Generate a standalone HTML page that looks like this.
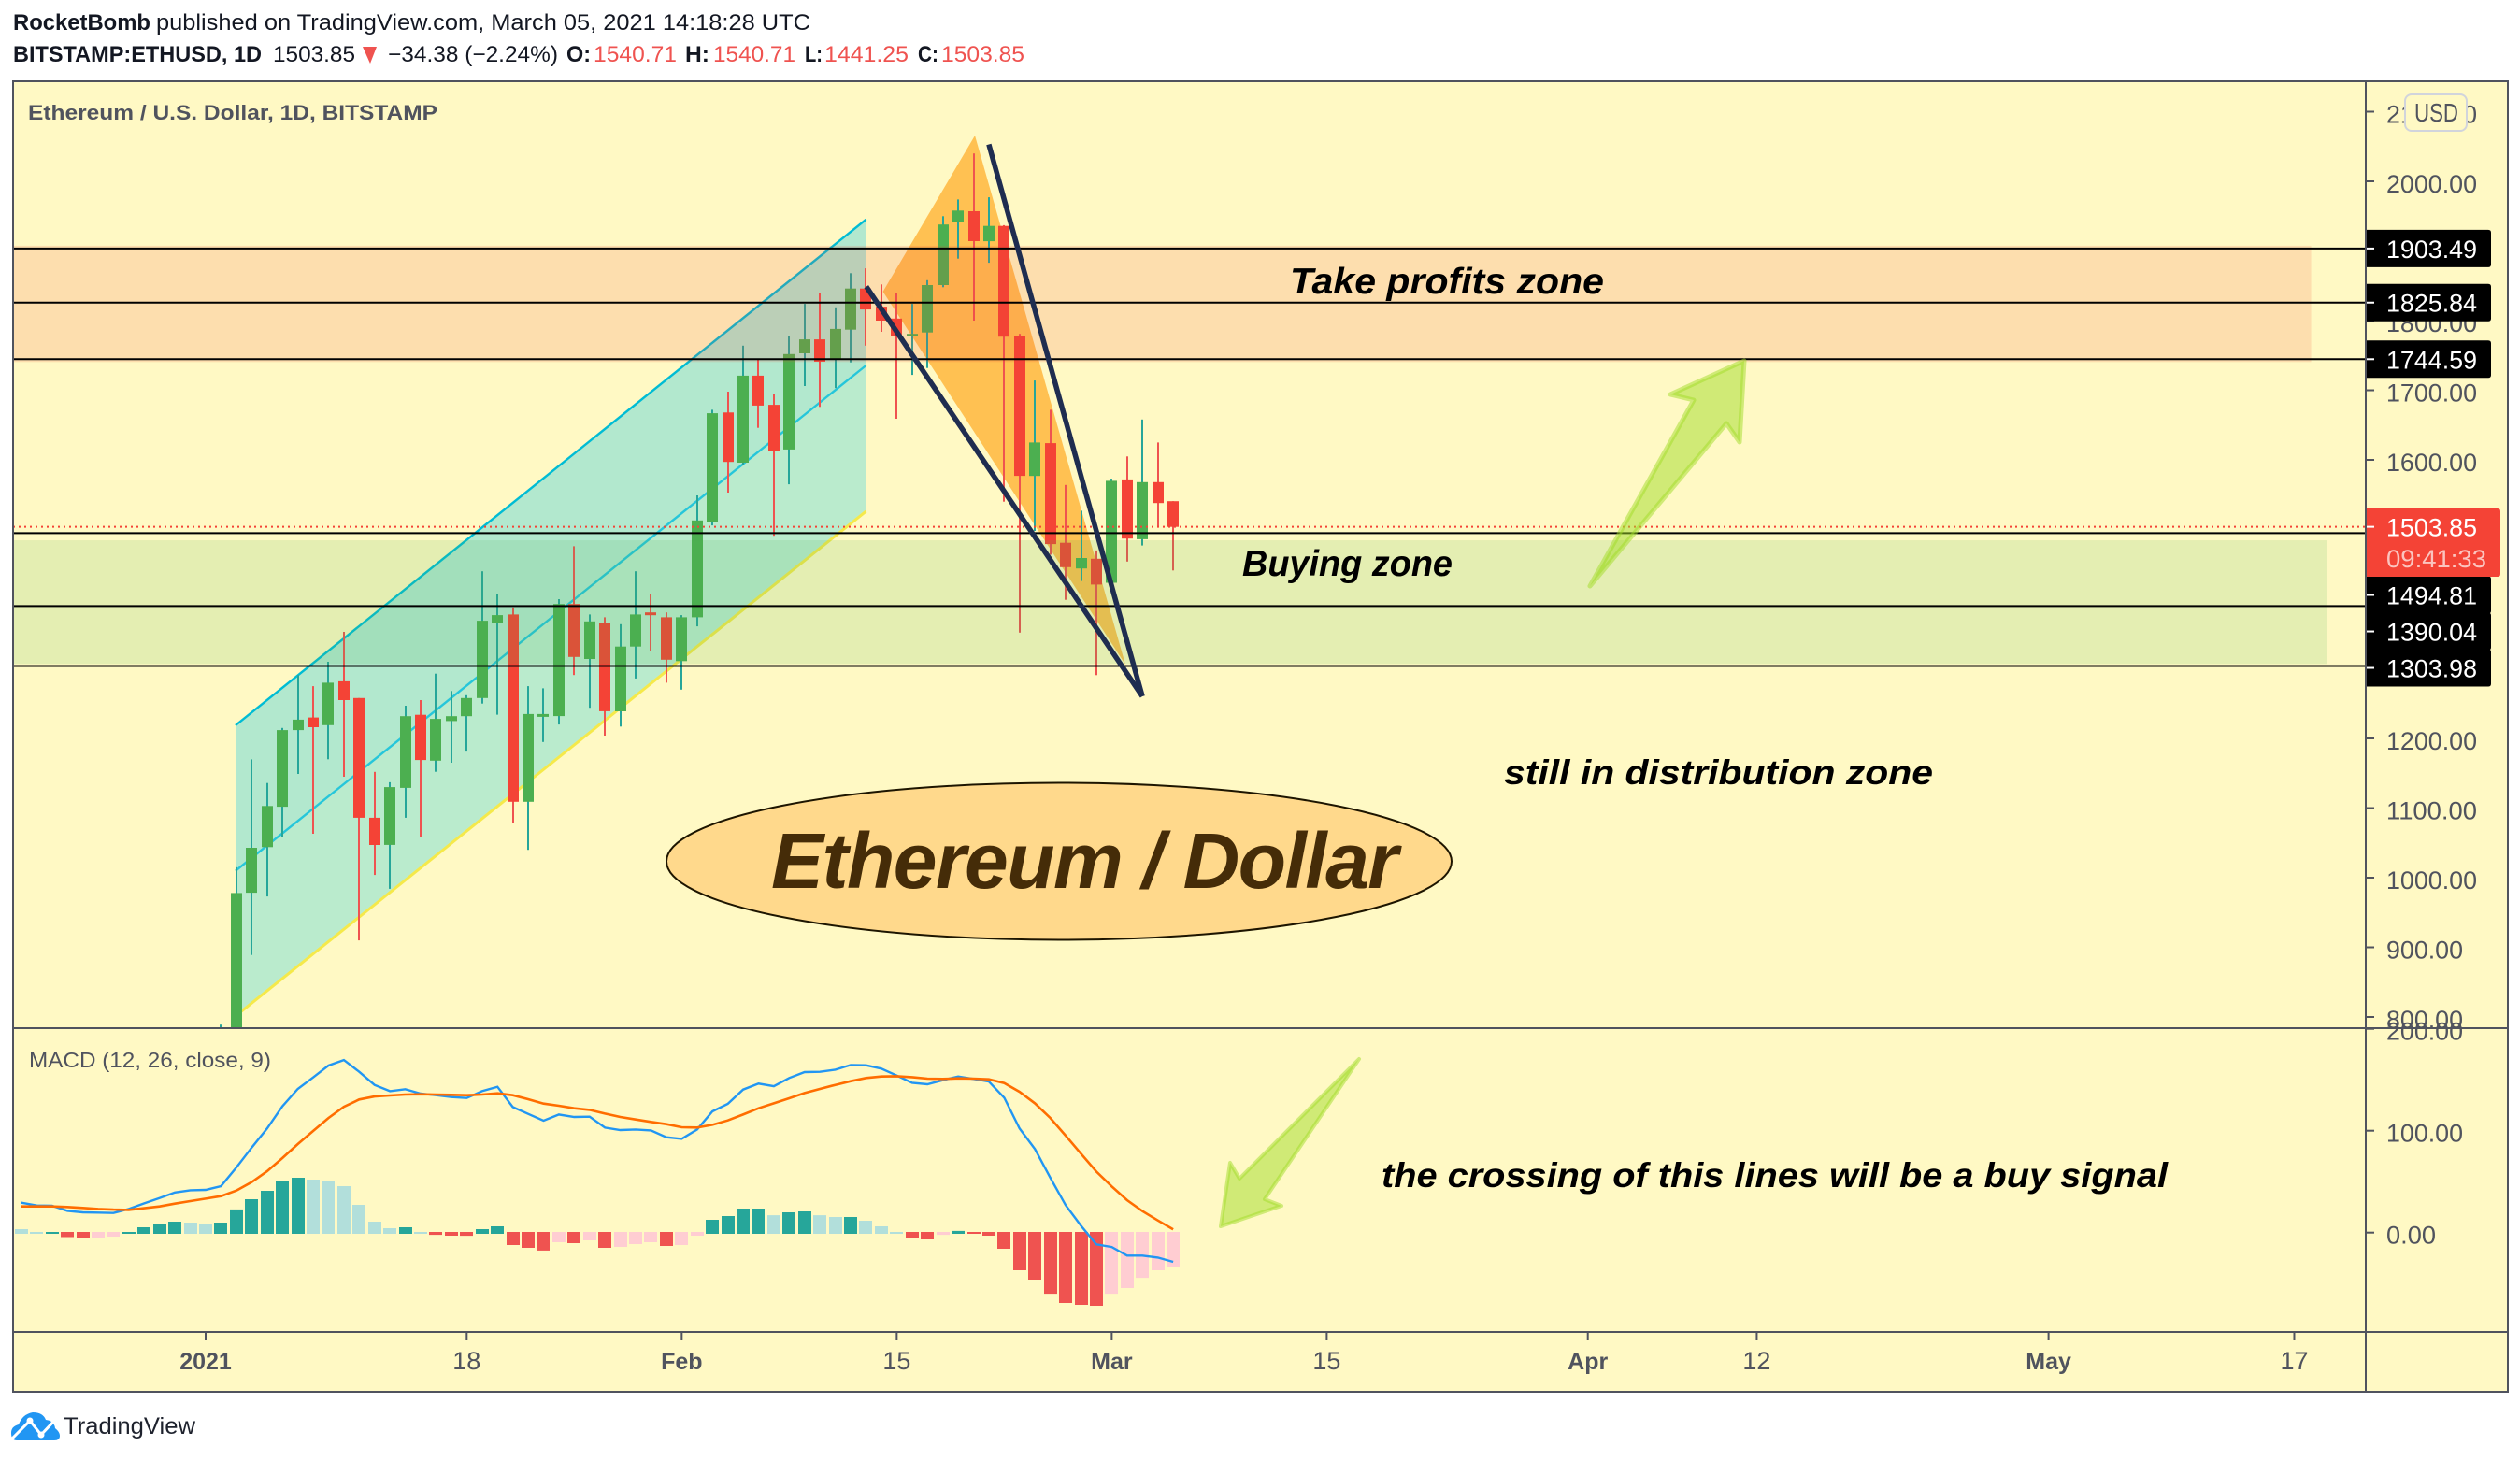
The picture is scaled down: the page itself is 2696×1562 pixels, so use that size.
<!DOCTYPE html>
<html lang="en">
<head>
<meta charset="utf-8">
<title>Ethereum / Dollar chart</title>
<style>
html,body{margin:0;padding:0;background:#fff;width:2696px;height:1562px;overflow:hidden}
svg{display:block}
text{font-family:"Liberation Sans",sans-serif}
</style>
</head>
<body>
<svg id="chart" xmlns="http://www.w3.org/2000/svg" width="2696" height="1562" viewBox="0 0 2696 1562">
  <defs>
    <clipPath id="pricePaneClip"><rect x="14" y="88" width="2517" height="1012"/></clipPath>
    <clipPath id="macdPaneClip"><rect x="14" y="1100" width="2517" height="325"/></clipPath>
  </defs>
  <rect x="0" y="0" width="2696" height="1562" fill="#ffffff"/>

  <g font-size="24" fill="#131722">
    <text x="14" y="32" font-weight="bold" textLength="147" lengthAdjust="spacingAndGlyphs">RocketBomb</text>
    <text x="167" y="32" textLength="700" lengthAdjust="spacingAndGlyphs">published on TradingView.com, March 05, 2021 14:18:28 UTC</text>
    <text x="14" y="66" font-weight="bold" textLength="266" lengthAdjust="spacingAndGlyphs">BITSTAMP:ETHUSD, 1D</text>
    <text x="292" y="66" textLength="88" lengthAdjust="spacingAndGlyphs">1503.85</text>
    <polygon points="388,50 403,50 396,68" fill="#ef5350"/>
    <text x="415" y="66" textLength="182" lengthAdjust="spacingAndGlyphs">−34.38 (−2.24%)</text>
    <text x="606" y="66" font-weight="bold" textLength="26" lengthAdjust="spacingAndGlyphs">O:</text>
    <text x="635" y="66" fill="#ef5350" textLength="89" lengthAdjust="spacingAndGlyphs">1540.71</text>
    <text x="733" y="66" font-weight="bold" textLength="26" lengthAdjust="spacingAndGlyphs">H:</text>
    <text x="763" y="66" fill="#ef5350" textLength="88" lengthAdjust="spacingAndGlyphs">1540.71</text>
    <text x="861" y="66" font-weight="bold" textLength="19" lengthAdjust="spacingAndGlyphs">L:</text>
    <text x="882" y="66" fill="#ef5350" textLength="90" lengthAdjust="spacingAndGlyphs">1441.25</text>
    <text x="982" y="66" font-weight="bold" textLength="22" lengthAdjust="spacingAndGlyphs">C:</text>
    <text x="1007" y="66" fill="#ef5350" textLength="89" lengthAdjust="spacingAndGlyphs">1503.85</text>
  </g>

  <rect x="14" y="87" width="2669" height="1402" fill="#fff9c4"/>

  <g id="pricePane" clip-path="url(#pricePaneClip)"></g>
  <g id="macdPane" clip-path="url(#macdPaneClip)"></g>

  <polygon points="1701,627 1812,428 1787,422 1866,386 1861,473 1847,453" fill="rgba(161,219,40,.5)" stroke="rgba(161,219,40,.5)" stroke-width="5" stroke-linejoin="round"/>
  <polygon points="1454,1133 1326,1261 1316,1244 1306,1312 1371,1290 1353,1283" fill="rgba(161,219,40,.5)" stroke="rgba(161,219,40,.5)" stroke-width="4" stroke-linejoin="round"/>

  <text x="1380" y="314" font-size="39" font-weight="bold" font-style="italic" fill="#000" textLength="336" lengthAdjust="spacingAndGlyphs">Take profits zone</text>
  <text x="1329" y="616" font-size="39" font-weight="bold" font-style="italic" fill="#000" textLength="225" lengthAdjust="spacingAndGlyphs">Buying zone</text>
  <text x="1609" y="839" font-size="37" font-weight="bold" font-style="italic" fill="#000" textLength="459" lengthAdjust="spacingAndGlyphs">still in distribution zone</text>
  <text x="1478" y="1270" font-size="37" font-weight="bold" font-style="italic" fill="#000" textLength="841" lengthAdjust="spacingAndGlyphs">the crossing of this lines will be a buy signal</text>

  <ellipse cx="1133" cy="921.5" rx="420" ry="84" fill="#ffd98c" stroke="#1d1500" stroke-width="2"/>
  <text x="825" y="950" font-size="84" font-weight="bold" font-style="italic" fill="#452c08" textLength="671" lengthAdjust="spacing">Ethereum / Dollar</text>

  <text x="30" y="128" font-size="22" font-weight="bold" fill="#50535e" textLength="438" lengthAdjust="spacingAndGlyphs">Ethereum / U.S. Dollar, 1D, BITSTAMP</text>
  <text x="31" y="1142" font-size="23" fill="#50535e" textLength="259" lengthAdjust="spacingAndGlyphs">MACD (12, 26, close, 9)</text>

  <g id="axes"></g>

  <g stroke="#50535e" stroke-width="2" fill="none">
    <rect x="14" y="87" width="2669" height="1402"/>
    <line x1="2531" y1="87" x2="2531" y2="1489"/>
    <line x1="14" y1="1100" x2="2683" y2="1100"/>
    <line x1="14" y1="1425" x2="2683" y2="1425"/>
  </g>

  <g>
    <rect x="2573" y="101" width="66" height="39" rx="7" fill="#fff9c4" stroke="#d1d4dc" stroke-width="2"/>
    <text x="2583" y="130" font-size="28" fill="#50535e" textLength="47" lengthAdjust="spacingAndGlyphs">USD</text>
  </g>

  <g>
    <path d="M18,1541 Q12,1541 12,1533 Q12,1526 20,1524 Q24,1513 35,1511 Q46,1511 49,1519 Q58,1520 59,1528 Q64,1532 64,1536 Q64,1541 58,1541 Z" fill="#2196f3"/>
    <polyline points="13,1539 32,1520 44,1535 60,1518" fill="none" stroke="#ffffff" stroke-width="3"/>
    <circle cx="32" cy="1520" r="3.5" fill="#ffffff"/>
    <circle cx="44" cy="1535" r="3.5" fill="#ffffff"/>
    <text x="68" y="1534" font-size="25" fill="#1e222d" textLength="141" lengthAdjust="spacingAndGlyphs">TradingView</text>
  </g>
</svg>

<script>
// ---- candle data (first candle is day 1 = 2 Jan 2021) ----
const candleStartDay = 1;
const opens  = [730,775,978.5,1044,1102,1212,1230,1219,1282,1258,1086,1047,1129,1234,1168,1225,1232,1258,1366,1378,1109,1231,1232,1393,1314,1366,1239,1332,1381,1374,1311,1374,1511,1668,1596,1721,1679,1615,1753,1773,1745,1787,1846,1820,1803,1778,1783,1851,1941,1957,1914,1936,1778,1577,1624,1481,1444,1458,1423.5,1572,1486,1568,1540.71];
const highs  = [789,1015,1170,1136,1215,1291,1275,1310,1353,1258,1152,1137,1247,1255,1293,1268,1262,1440,1408,1388,1275,1272,1400,1476,1378,1374,1364,1440,1408,1381,1377,1549,1672,1698,1764,1744,1695,1778,1824,1839,1819,1868,1875,1852,1839,1824,1858,1950,1974,2040,1977,1937,1781,1714,1672,1564,1527,1470,1573,1605,1658,1625,1540.71];
const lows   = [716,745,889,973,1058,1149,1063,1170,1145,910,1004,984,1086,1058,1152,1165,1181,1250,1234,1079,1040,1195,1220,1291,1244,1204,1217,1286,1325,1280,1270,1361,1506,1553,1592,1646,1491,1565,1706,1676,1703,1740,1764,1784,1659,1722,1732,1848,1889,1800,1883,1540,1352,1498,1464,1399,1426,1291,1423.5,1454,1477,1503,1441.25];
const closes = [775,978,1043,1103,1212,1227,1216,1280,1255,1086,1047,1130,1232,1169,1228,1232,1258,1369,1377,1109,1235,1235,1393,1317,1368,1239,1332,1378,1377,1313,1374,1513,1667,1597,1721,1678,1613,1752,1773,1741,1788,1846,1816,1800,1778,1781,1851,1938,1958,1914,1936,1777,1577,1625,1479,1446,1459,1421,1570,1487,1568,1538,1503.85];

// ---- MACD data (first value is day -12 = 20 Dec 2020) ----
const macdStartDay = -12;
const histogramValues = [4.6,1.8,1.8,-5.0,-5.8,-5.5,-4.6,1.8,6.4,9.2,11.9,11,10.1,11,23.9,33.9,42.2,52.3,55,53.2,52.3,46.8,28.4,11.9,5.5,6.4,1.8,-2.8,-3.7,-3.8,4.6,7.3,-12.8,-15.6,-18.3,-10.1,-11,-8.3,-15.6,-14.7,-11.9,-10.1,-13.8,-12.8,-3.7,13.8,17.4,24.8,24.8,18.3,21.1,22,18.3,16.5,16.5,12.8,7.3,1.8,-6.4,-7.3,-2.8,2.8,-1.8,-3.7,-16.5,-37.6,-46.8,-60.6,-69.7,-71.6,-72.5,-60.6,-55,-45,-37.6,-33.9];
const macdValues = [29.4,26.6,26.3,21.4,19.9,19.6,19.3,23.2,28.7,33.9,39.4,41.6,41.9,45.6,63.9,83.5,102.1,123.9,141,152.3,163.9,169.4,157.8,145,138.8,140.7,136.4,134.9,133,132.1,138.8,143.1,123.2,116.5,109.8,115.9,113.5,113.8,103,100.6,101.2,100.3,93.6,92,101.2,119,126.3,140.4,146.2,143.7,151.7,157.5,157.8,159.9,164.5,164.2,160.9,154.1,147.1,145.6,149.5,153.2,150.8,148.3,132.4,102.1,82,53.8,26.9,6.7,-11.6,-14.1,-22.6,-22.6,-24.5,-28.7];
const signalValues = [25.7,25.7,25.7,25.1,24.2,23.2,22.6,22.3,23.9,25.7,28.4,30.9,33.3,35.8,41.3,49.5,60.2,73.1,86.9,99.7,112.5,123.5,130.6,133.6,134.6,135.5,135.8,135.5,135.2,134.9,135.5,136.7,134.9,130.9,126.6,124.5,122,120.5,116.8,113.5,111,108.6,106.4,103.4,103.1,105.8,110.1,115.9,122,126.9,131.8,137,141,145,148.6,151.7,153.2,153.5,152.6,151.1,150.8,151.4,151.1,150.5,146.8,138.2,126.9,112.5,95.1,77.4,59.9,45.3,31.8,21.1,11.9,3.1];

// ---- annotation levels, as [day, price] or prices ----
const levelPrices = [1903.49,1825.84,1744.59,1494.81,1390.04,1303.98];
const lastPrice = 1503.85;
const countdownText = '09:41:33';
const takeProfitZone = [1907.5,1740.5];
const buyingZone = [1484.5,1307];
const takeProfitZoneEndDay = 137.1;
const buyingZoneEndDay = 138.1;
const channelUpper = [[1.95,1218.8],[43,1945.2]];
const channelMiddle = [[1.95,1009.8],[43,1735.6]];
const channelLower = [[1.95,801.3],[43,1526]];
const patternPoints = [[44.1,1841.6],[50.09,2065.8],[59.89,1306]];
const wedgeLower = [[43.02,1848.7],[60.99,1260.4]];
const wedgeUpper = [[51,2053],[60.99,1260.4]];

// ---- axis labels ----
const priceTicks = [2100,2000,1900,1800,1700,1600,1500,1400,1300,1200,1100,1000,900,800];
const macdTicks = [200,100,0];
const timeTickDays = [0,17,31,45,59,73,90,101,120,136];
const timeTickLabels = ['2021','18','Feb','15','Mar','15','Apr','12','May','17'];
const timeTickBold = [true,false,true,false,true,false,true,false,true,false];

// ---- axis functions ----
function xDay(d){return 220+d*16.43;}
function yPrice(p){return 194+(2000-p)*0.745;}
function yMacd(v){return 1318.7-1.09*v;}

const NS='http://www.w3.org/2000/svg';
function mk(tag,attrs,parent){
  const e=document.createElementNS(NS,tag);
  for(const k in attrs){e.setAttribute(k,attrs[k]);}
  parent.appendChild(e);
  return e;
}
const pricePane=document.getElementById('pricePane');
const macdPane=document.getElementById('macdPane');
const axes=document.getElementById('axes');
let el;

function ptStr(pts){return pts.map(function(q){return xDay(q[0]).toFixed(1)+','+yPrice(q[1]).toFixed(1);}).join(' ');}

// channel
el=mk('polygon',{points:ptStr([channelUpper[0],channelUpper[1],channelMiddle[1],channelMiddle[0]]),fill:'rgba(0,192,229,.3)'},pricePane);


el=mk('polygon',{points:ptStr([channelMiddle[0],channelMiddle[1],channelLower[1],channelLower[0]]),fill:'rgba(0,200,230,.27)'},pricePane);


el=mk('polyline',{points:ptStr(channelUpper),fill:'none',stroke:'#00bcd4','stroke-width':2.4},pricePane);


el=mk('polyline',{points:ptStr(channelMiddle),fill:'none',stroke:'#26c6da','stroke-width':2.4},pricePane);


el=mk('polyline',{points:ptStr(channelLower),fill:'none',stroke:'#f5e94a','stroke-width':3},pricePane);



// harmonic pattern
el=mk('polygon',{points:ptStr(patternPoints),fill:'rgba(255,152,0,.58)'},pricePane);



// candles
closes.forEach(function(c,i){
  const o=opens[i],h=highs[i],l=lows[i];
  const d=candleStartDay+i;
  const cx=Math.round(xDay(d));
  const up=c>=o;
  const w=mk('rect',{x:cx-1,y:yPrice(h).toFixed(1),width:2,height:(yPrice(l)-yPrice(h)).toFixed(1),fill:up?'#26a69a':'#ef5350'},pricePane);
  
  
  const top=yPrice(Math.max(o,c));
  const hgt=Math.max(2,Math.abs(yPrice(o)-yPrice(c)));
  const b=mk('rect',{x:cx-6,y:top.toFixed(1),width:12,height:hgt.toFixed(1),fill:up?'#4caf50':'#f44336'},pricePane);
  
  
});

// zones
el=mk('rect',{x:14,y:yPrice(takeProfitZone[0]),width:xDay(takeProfitZoneEndDay)-14,height:yPrice(takeProfitZone[1])-yPrice(takeProfitZone[0]),fill:'rgba(244,67,54,.15)'},pricePane);


el=mk('rect',{x:14,y:yPrice(buyingZone[0]),width:xDay(buyingZoneEndDay)-14,height:yPrice(buyingZone[1])-yPrice(buyingZone[0]),fill:'rgba(76,175,80,.15)'},pricePane);



// last price dotted line
el=mk('line',{x1:14,x2:2531,y1:yPrice(lastPrice),y2:yPrice(lastPrice),stroke:'#f44336','stroke-width':2,'stroke-dasharray':'2 4'},pricePane);



// horizontal levels
levelPrices.forEach(function(p){
  const ln=mk('line',{x1:14,x2:2531,y1:yPrice(p),y2:yPrice(p),stroke:'#000','stroke-width':2},pricePane);
  
  
});

// wedge
el=mk('polyline',{points:ptStr(wedgeLower),fill:'none',stroke:'#1f2d50','stroke-width':5.5},pricePane);


el=mk('polyline',{points:ptStr(wedgeUpper),fill:'none',stroke:'#1f2d50','stroke-width':5.5},pricePane);



// MACD histogram
histogramValues.forEach(function(v,i){
  const prev=i>0?histogramValues[i-1]:v+1;
  let col;
  if(v>=0){col=v>=prev?'#26a69a':'#b2dfdb';}else{col=v<prev?'#ef5350':'#ffcdd2';}
  const cx=Math.round(xDay(macdStartDay+i));
  const hgt=Math.abs(v)*1.09;
  const y=v>=0?yMacd(v)+1.3:yMacd(0)-0.7;
  const b=mk('rect',{x:cx-7,y:y.toFixed(1),width:14,height:hgt.toFixed(1),fill:col},macdPane);
  
  
});
function macdPath(arr){return arr.map(function(v,i){return xDay(macdStartDay+i).toFixed(1)+','+yMacd(v).toFixed(1);}).join(' ');}
el=mk('polyline',{points:macdPath(macdValues),fill:'none',stroke:'#2196f3','stroke-width':2.4},macdPane);


el=mk('polyline',{points:macdPath(signalValues),fill:'none',stroke:'#ff6d00','stroke-width':2.6},macdPane);



// price axis ticks + labels
function axisText(str,x,y,fill,len){
  const t=mk('text',{x:x,y:y,'font-size':27,fill:fill,textLength:len,lengthAdjust:'spacingAndGlyphs'},axes);
  t.textContent=str;
  return t;
}
priceTicks.forEach(function(p){
  const y=yPrice(p);
  const tk=mk('line',{x1:2531,x2:2540,y1:y,y2:y,stroke:'#50535e','stroke-width':2},axes);
  
  
  const t=axisText(p.toFixed(2),2553,y+12,'#50535e',p>=1000?97:82);
  
  
});
macdTicks.forEach(function(v){
  const y=yMacd(v);
  const tk=mk('line',{x1:2531,x2:2540,y1:y,y2:y,stroke:'#50535e','stroke-width':2},axes);
  
  
  const t=axisText(v.toFixed(2),2553,y+12,'#50535e',v>=100?82:53);
  
  
});

// level price labels, stacked with collision layout around the last-price label
const redTop=yPrice(lastPrice)-19.6, redBottom=redTop+73;
let cursor=-1e9;
levelPrices.slice().sort(function(a,b){return b-a;}).forEach(function(p){
  let cy=yPrice(p);
  const overlapsRed=(cy+19.5>redTop&&cy-19.5<redBottom);
  if(overlapsRed){cy=redBottom+19.5;}
  if(cy-19.5<cursor){cy=cursor+19.5;}
  cursor=cy+19.5;
  const r=mk('path',{d:'M2531,'+(cy-20).toFixed(1)+' H2662 q3,0 3,3 V'+(cy+17).toFixed(1)+' q0,3 -3,3 H2531 Z',fill:'#000'},axes);
  
  
  const tk=mk('line',{x1:2531,x2:2540,y1:cy,y2:cy,stroke:'#fff','stroke-width':2},axes);
  
  
  const t=axisText(p.toFixed(2),2553,cy+10,'#ffffff',97);
  
  
});

// last price tag
el=mk('path',{d:'M2531,'+redTop.toFixed(1)+' H2672 q3,0 3,3 V'+(redBottom-3).toFixed(1)+' q0,3 -3,3 H2531 Z',fill:'#f44336'},axes);


el=mk('line',{x1:2531,x2:2540,y1:yPrice(lastPrice),y2:yPrice(lastPrice),stroke:'#fff','stroke-width':2},axes);


el=axisText(lastPrice.toFixed(2),2553,yPrice(lastPrice)+10,'#ffffff',97);


el=axisText(countdownText,2553,yPrice(lastPrice)+43.5,'#fbc4bf',107);



// time axis
timeTickDays.forEach(function(d,i){
  const x=xDay(d);
  const tk=mk('line',{x1:x,x2:x,y1:1425,y2:1434,stroke:'#50535e','stroke-width':2},axes);
  
  
  const t=mk('text',{x:x,y:1465,'font-size':timeTickBold[i]?25:27,'text-anchor':'middle',fill:'#50535e','font-weight':timeTickBold[i]?'bold':'normal'},axes);
  t.textContent=timeTickLabels[i];
  
  
});
</script>
</body>
</html>
